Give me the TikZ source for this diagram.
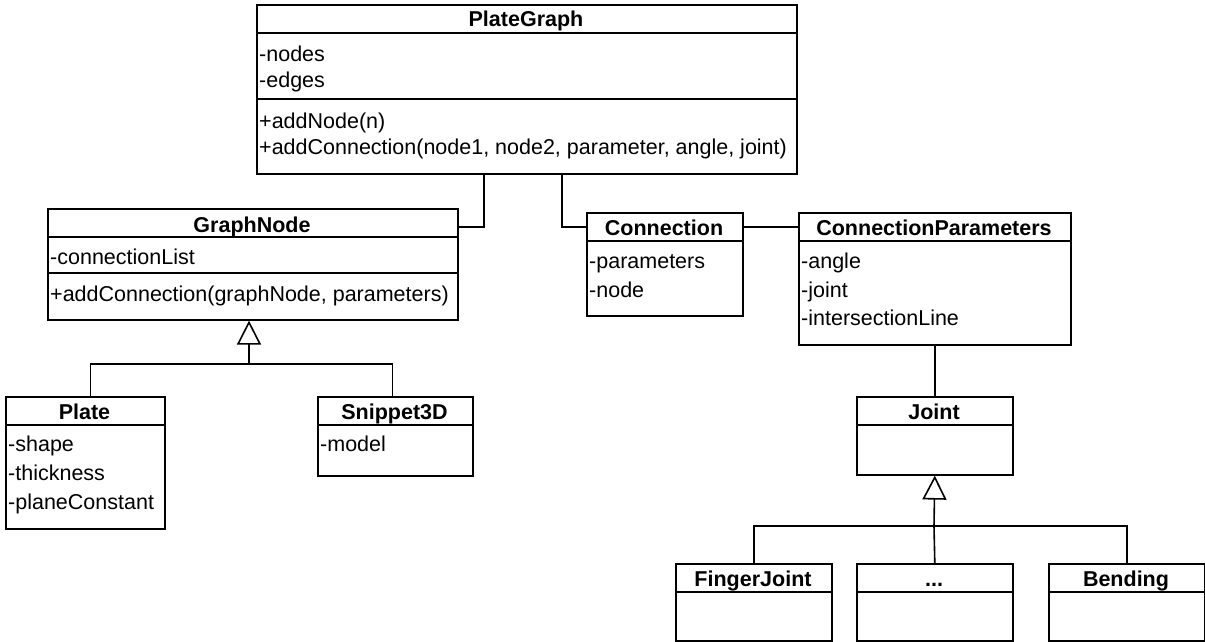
\documentclass[tikz,border=0pt]{standalone}
\usepackage{fontspec}
\setmainfont{Liberation Sans}
\usetikzlibrary{arrows.meta}

\begin{document}
\begin{tikzpicture}[x=1pt,y=-1pt]
	\tikzset{classbox/.style = {draw, line width=1.6pt, anchor=north west, inner sep=0pt},
		title/.style = {anchor=base, inner sep=0pt, font=\fontsize{21.5}{25}\selectfont\bfseries},
		member/.style = {anchor=base west, inner sep=0pt, font=\fontsize{21.5}{25}\selectfont},
		link/.style = {line width=1.6pt},
		inherit/.style = {line width=1.6pt, -{Triangle[open, length=24pt, width=24pt, line width=1.6pt]}}}

	\useasboundingbox (0,0) rectangle (1205,642);

	% PlateGraph
	\node[classbox, minimum width=540pt, minimum height=169pt] (PG) at (256,4) {};
	\draw[link] (256,33) -- (796,33);
	\draw[link] (256,99) -- (796,99);
	\node[title] (PG_t) at (526,27) {PlateGraph};
	\node[member] (PG_1) at (259,62) {-nodes};
	\node[member] (PG_2) at (259,88) {-edges};
	\node[member] (PG_3) at (259,128) {+addNode(n)};
	\node[member] (PG_4) at (259,154) {+addConnection(node1, node2, parameter, angle, joint)};

	% GraphNode
	\node[classbox, minimum width=410pt, minimum height=111pt] (GN) at (47,208) {};
	\draw[link] (47,237) -- (457,237);
	\draw[link] (47,273) -- (457,273);
	\node[title] (GN_t) at (252,232) {GraphNode};
	\node[member] (GN_1) at (50,264) {-connectionList};
	\node[member] (GN_2) at (50,301) {+addConnection(graphNode, parameters)};

	% Connection
	\node[classbox, minimum width=156pt, minimum height=103pt] (CN) at (586,212) {};
	\draw[link] (586,241) -- (742,241);
	\node[title] (CN_t) at (664,235) {Connection};
	\node[member] (CN_1) at (589,268) {-parameters};
	\node[member] (CN_2) at (589,297) {-node};

	% ConnectionParameters
	\node[classbox, minimum width=272pt, minimum height=132pt] (CP) at (798,212) {};
	\draw[link] (798,241) -- (1070,241);
	\node[title] (CP_t) at (934,235) {ConnectionParameters};
	\node[member] (CP_1) at (801,268) {-angle};
	\node[member] (CP_2) at (801,297) {-joint};
	\node[member] (CP_3) at (801,325) {-intersectionLine};

	% Plate
	\node[classbox, minimum width=159pt, minimum height=132pt] (PL) at (5,396) {};
	\draw[link] (5,425) -- (164,425);
	\node[title] (PL_t) at (84.5,419) {Plate};
	\node[member] (PL_1) at (8,451) {-shape};
	\node[member] (PL_2) at (8,480) {-thickness};
	\node[member] (PL_3) at (8,509) {-planeConstant};

	% Snippet3D
	\node[classbox, minimum width=155pt, minimum height=79pt] (SN) at (317,396) {};
	\draw[link] (317,425) -- (472,425);
	\node[title] (SN_t) at (394.5,419) {Snippet3D};
	\node[member] (SN_1) at (320,451) {-model};

	% Joint
	\node[classbox, minimum width=156pt, minimum height=78pt] (JT) at (856,396) {};
	\draw[link] (856,425) -- (1012,425);
	\node[title] (JT_t) at (934,419) {Joint};

	% FingerJoint, ..., Bending
	\node[classbox, minimum width=156pt, minimum height=77pt] (FJ) at (675,563) {};
	\draw[link] (675,592) -- (831,592);
	\node[title] (FJ_t) at (753,586) {FingerJoint};

	\node[classbox, minimum width=156pt, minimum height=77pt] (DT) at (856,563) {};
	\draw[link] (856,592) -- (1012,592);
	\node[title] (DT_t) at (934,586) {...};

	\node[classbox, minimum width=156pt, minimum height=77pt] (BD) at (1048,563) {};
	\draw[link] (1048,592) -- (1204,592);
	\node[title] (BD_t) at (1126,586) {Bending};

	% associations
	\draw[link] ([xshift=-43pt]PG.south) |- ([yshift=-19pt]GN.north east);
	\draw[link] ([xshift=35pt]PG.south) |- ([yshift=-15pt]CN.north west);
	\draw[link] ([yshift=-15pt]CN.north east) -- ([yshift=-15pt]CP.north west);
	\draw[link] (CP.south) -- (JT.north);

	% generalizations
	\coordinate (gn_bar) at (249,364);
	\draw[link] ([xshift=5pt]PL.north) |- (gn_bar) -| ([xshift=-3pt]SN.north);
	\draw[inherit] (gn_bar) -- (gn_bar |- GN.south);

	\coordinate (jt_bar) at (934,526);
	\draw[link] (FJ.north) |- (jt_bar) -| (BD.north);
	\draw[link] (DT.north) -- (jt_bar);
	\draw[inherit] (jt_bar) -- (JT.south);

\end{tikzpicture}
\end{document}
